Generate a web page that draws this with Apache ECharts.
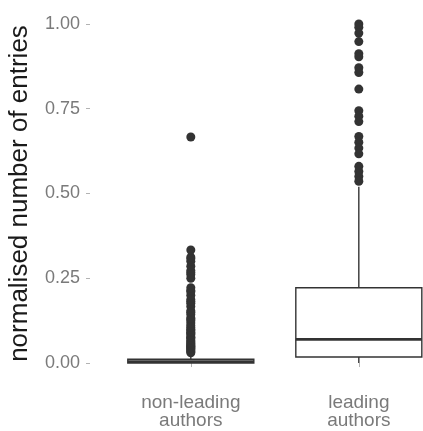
<!DOCTYPE html>
<html>
<head>
<meta charset="utf-8">
<script src="https://cdn.jsdelivr.net/npm/echarts@6/dist/echarts.min.js"></script>
<style>
html,body{margin:0;padding:0;background:#fff;}
#chart{width:423px;height:431px;}
</style>
</head>
<body>
<div id="chart"></div>
<script>
// ---- data ----
const categories = ['non-leading\nauthors', 'leading\nauthors'];
const yTicks = [0, 0.25, 0.5, 0.75, 1.0];
const yTitle = 'normalised number of entries';
const whiskerLow = [0, 0];
const q1 = [0, 0.018];
const median = [0.004, 0.07];
const q3 = [0.011, 0.222];
const whiskerHigh = [0.025, 0.52];
const outliersNonLeading = [0.03, 0.033, 0.036, 0.04, 0.043, 0.045, 0.048, 0.05, 0.053, 0.056, 0.059, 0.0625,
  0.0667, 0.0714, 0.075, 0.077, 0.0833, 0.087, 0.0909, 0.0952, 0.1, 0.105, 0.111, 0.118, 0.125, 0.13, 0.133,
  0.143, 0.15, 0.154, 0.1667, 0.1765, 0.182, 0.1875, 0.2, 0.2105, 0.2143, 0.2222, 0.25, 0.2609, 0.2667,
  0.2727, 0.2857, 0.3, 0.3077, 0.3125, 0.3333, 0.6667];
const outliersLeading = [1.0, 0.99, 0.973, 0.948, 0.912, 0.903, 0.871, 0.857, 0.808, 0.744, 0.728, 0.712,
  0.668, 0.651, 0.634, 0.617, 0.58, 0.565, 0.55, 0.536];

// ---- build ----
const boxData = categories.map((c, i) => [i + 1, whiskerLow[i], q1[i], median[i], q3[i], whiskerHigh[i]]);
const outlierData = [];
outliersNonLeading.forEach(v => outlierData.push([1, v]));
outliersLeading.forEach(v => outlierData.push([2, v]));

const FONT = 'Liberation Sans, Arial, Helvetica, sans-serif';
const INK = '#333333';

const chart = echarts.init(document.getElementById('chart'), null, {renderer: 'canvas'});
chart.setOption({
  animation: false,
  backgroundColor: '#ffffff',
  grid: {left: 90, top: 7, right: 0, bottom: 51, containLabel: false, outerBoundsMode: 'none'},
  xAxis: {
    type: 'value', min: 0.4, max: 2.382,
    splitLine: {show: false},
    axisLine: {show: false},
    axisTick: {show: true, length: 4, customValues: [1, 2], lineStyle: {color: '#b3b3b3', width: 1}},
    axisLabel: {
      customValues: [1, 2], margin: 14,
      formatter: v => categories[Math.round(v) - 1] || '',
      color: '#7a7a7a', fontSize: 19, lineHeight: 18, fontFamily: FONT, align: 'center'
    }
  },
  yAxis: {
    type: 'value', min: -0.05, max: 1.05,
    name: yTitle, nameLocation: 'middle', nameGap: 57,
    nameTextStyle: {color: '#1a1a1a', fontSize: 26, fontFamily: FONT},
    splitLine: {show: false},
    axisLine: {show: false},
    axisTick: {show: true, length: 4, customValues: yTicks, lineStyle: {color: '#b3b3b3', width: 1}},
    axisLabel: {
      customValues: yTicks, margin: 10,
      formatter: v => v.toFixed(2),
      color: '#7a7a7a', fontSize: 18, fontFamily: FONT
    }
  },
  series: [
    {
      type: 'custom',
      data: boxData,
      encode: {x: 0, y: [1, 2, 3, 4, 5]},
      z: 2,
      renderItem: function (params, api) {
        const x = api.value(0);
        const w = api.size([0.75, 0])[0];
        const pLo = api.coord([x, api.value(1)]);
        const pQ1 = api.coord([x, api.value(2)]);
        const pMed = api.coord([x, api.value(3)]);
        const pQ3 = api.coord([x, api.value(4)]);
        const pHi = api.coord([x, api.value(5)]);
        const cx = pMed[0];
        return {
          type: 'group',
          children: [
            {type: 'line', shape: {x1: cx, y1: pHi[1], x2: cx, y2: pQ3[1]}, style: {stroke: INK, lineWidth: 1.4}},
            {type: 'line', shape: {x1: cx, y1: pQ1[1], x2: cx, y2: pLo[1]}, style: {stroke: INK, lineWidth: 1.4}},
            {type: 'rect', shape: {x: cx - w / 2, y: pQ3[1], width: w, height: pQ1[1] - pQ3[1]},
              style: {fill: '#ffffff', stroke: INK, lineWidth: 1.4}},
            {type: 'line', shape: {x1: cx - w / 2, y1: pMed[1], x2: cx + w / 2, y2: pMed[1]},
              style: {stroke: INK, lineWidth: 2.8}}
          ]
        };
      }
    },
    {
      type: 'scatter',
      data: outlierData,
      symbol: 'circle',
      symbolSize: 9,
      z: 3,
      itemStyle: {color: INK, opacity: 1},
      emphasis: {disabled: true}
    }
  ]
});
</script>
</body>
</html>
